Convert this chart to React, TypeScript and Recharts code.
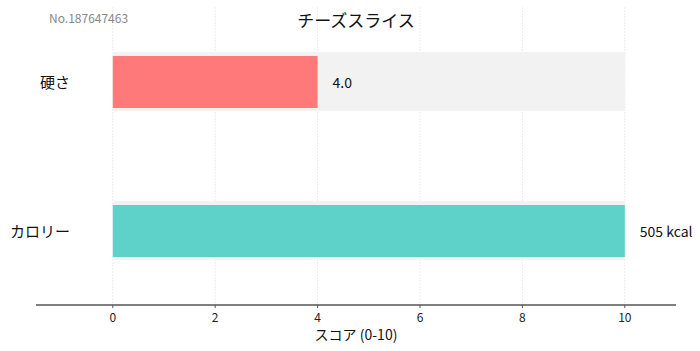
import React from "react";
import { BarChart, Bar, XAxis, YAxis, CartesianGrid, LabelList } from "recharts";

const categories = ["硬さ", "カロリー"];
const scores = [4.0, 10];
const valueLabels = ["4.0", "505 kcal"];
const trackMax = [10, 10];
const colors = ["#FF6B6B", "#4ECDC4"];
const xTicks = [0, 2, 4, 6, 8, 10];
const title = "チーズスライス";
const idText = "No.187647463";
const xLabel = "スコア (0-10)";

const data = categories.map((c, i) => ({
  name: c,
  score: scores[i],
  track: trackMax[i],
  label: valueLabels[i],
  color: colors[i],
}));

const FONT = "'Noto Sans CJK JP', 'Noto Sans', sans-serif";

const YTick = (props: any) => {
  const { x, y, payload } = props;
  return (
    <text x={x + 42} y={y} textAnchor="end" dominantBaseline="central" fontSize={15} fill="#111" fontFamily={FONT}>
      {payload.value}
    </text>
  );
};

const ValueLabel = (props: any) => {
  const { x, y, width, height, index } = props;
  return (
    <text x={x + width + 15} y={y + height / 2} dominantBaseline="central" fontSize={14} fill="#111" fontFamily={FONT}>
      {data[index].label}
    </text>
  );
};

export default function App() {
  return (
    <div style={{ position: "absolute", left: 0, top: 0, width: 700, height: 351, background: "#fff", fontFamily: FONT }}>
      <BarChart
        width={700}
        height={351}
        data={data}
        layout="vertical"
        margin={{ top: 7, right: 24, bottom: 0, left: 0 }}
      >
        <CartesianGrid horizontal={false} vertical={true} verticalValues={xTicks} stroke="#ececec" strokeDasharray="2 1" />
        <XAxis
          type="number"
          domain={[-1.5, 11]}
          ticks={xTicks}
          allowDataOverflow
          tickLine={{ stroke: "#555" }}
          tickSize={3}
          tickMargin={5}
          axisLine={{ stroke: "#555", strokeWidth: 1.5 }}
          tick={{ fontSize: 12, fill: "#222", fontFamily: FONT }}
          height={46}
          label={{ value: xLabel, position: "insideBottom", offset: 11, fontSize: 14, fill: "#111", fontFamily: FONT }}
        />
        <YAxis yAxisId="main" type="category" dataKey="name" width={36} axisLine={false} tickLine={false} tick={<YTick />} />
        <YAxis yAxisId="track" type="category" dataKey="name" hide />
        <Bar yAxisId="track" dataKey="track" barSize={59} fill="#f2f2f2" isAnimationActive={false} />
        <Bar yAxisId="main" dataKey="score" barSize={52} isAnimationActive={false} shape={(p: any) => (
          <rect x={p.x} y={p.y} width={p.width} height={p.height} fill={p.payload.color} fillOpacity={0.9} />
        )}>
          <LabelList dataKey="score" content={<ValueLabel />} />
        </Bar>
      </BarChart>
      <div style={{ position: "absolute", left: 49, top: 10, fontSize: 12, color: "#888", lineHeight: "16px" }}>{idText}</div>
      <div style={{ position: "absolute", left: 0, width: 712, top: 8, textAlign: "center", fontSize: 17, color: "#111", lineHeight: "24px" }}>{title}</div>
    </div>
  );
}
